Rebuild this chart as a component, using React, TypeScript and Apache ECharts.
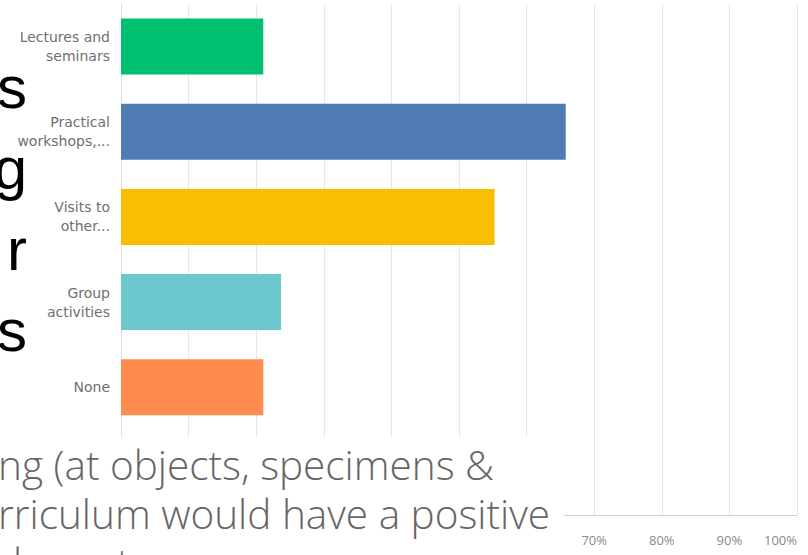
import React, { useEffect, useRef } from "react";
import * as echarts from "echarts";

const categories = [
  "Lectures and\nseminars",
  "Practical\nworkshops,...",
  "Visits to\nother...",
  "Group\nactivities",
  "None",
];
const values = [21.05, 65.79, 55.26, 23.68, 21.05];
const barColors = ["#00BF6F", "#507CB6", "#F9BE00", "#6BC8CD", "#FF8B4F"];
const visibleTickMin = 70;
const slideLetters = ["s", "g", "r", "s"];
const slideLines = [
  "ng (at objects, specimens &",
  "rriculum would have a positive",
  "duce stress",
];

export default function App() {
  const ref = useRef<HTMLDivElement>(null);
  useEffect(() => {
    if (!ref.current) return;
    const chart = echarts.init(ref.current, null, { renderer: "svg" });
    const graphics: any[] = [];
    slideLetters.forEach((t, i) => {
      graphics.push({
        type: "text",
        x: 27,
        y: 87 + i * 81,
        z: 1,
        style: {
          text: t,
          fill: "#000",
          font: '60px "Liberation Sans"',
          textAlign: "right",
          textVerticalAlign: "middle",
        },
      });
    });
    graphics.push({
      type: "rect",
      shape: { x: 0, y: 437, width: 564, height: 118 },
      z: 100,
      style: { fill: "#fff" },
    });
    slideLines.forEach((t, i) => {
      graphics.push({
        type: "text",
        x: -2,
        y: 464 + i * 49,
        z: 101,
        style: {
          text: t,
          fill: "#666666",
          font: '300 40.5px "Open Sans"',
          textAlign: "left",
          textVerticalAlign: "middle",
        },
      });
    });
    chart.setOption({
      animation: false,
      grid: { left: 121, right: 11, top: 4, bottom: 40, containLabel: false },
      xAxis: {
        type: "value",
        min: 0,
        max: 100,
        interval: 10,
        axisLine: { show: true, lineStyle: { color: "#d0d0d0" } },
        axisTick: { show: false },
        splitLine: { show: true, lineStyle: { color: "#e8e8e8" } },
        axisLabel: {
          formatter: (v: number) => (v >= visibleTickMin ? v + "%" : ""),
          color: "#8a8a8a",
          fontSize: 13,
          fontFamily: "Open Sans",
          margin: 18,
          alignMaxLabel: "right",
        },
      },
      yAxis: {
        type: "category",
        data: categories,
        inverse: true,
        max: 5,
        axisLine: { show: true, lineStyle: { color: "#dddddd" } },
        axisTick: { show: false },
        splitLine: { show: false },
        axisLabel: {
          color: "#707070",
          fontSize: 14,
          lineHeight: 19,
          fontFamily: "DejaVu Sans",
          margin: 11,
          align: "right",
          formatter: (v: any) => (v === undefined || v === null || v === "undefined" ? "" : v),
        },
      },
      series: [
        {
          type: "bar",
          barWidth: 56,
          data: values.map((v, i) => ({ value: v, itemStyle: { color: barColors[i] } })),
        },
      ],
      graphic: graphics,
    });
    return () => chart.dispose();
  }, []);
  return (
    <div
      ref={ref}
      style={{ position: "fixed", left: 0, top: 0, width: 808, height: 555, background: "#fff" }}
    />
  );
}
